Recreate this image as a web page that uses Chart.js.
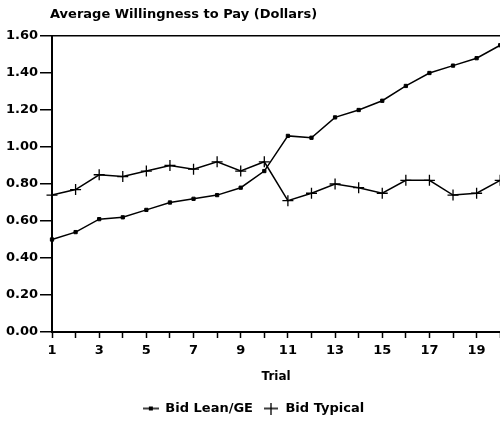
<!DOCTYPE html>
<html>
<head>
<meta charset="utf-8">
<script src="https://cdn.jsdelivr.net/npm/chart.js@4"></script>
<style>
  html, body { margin: 0; padding: 0; background: #fff; }
  /* canvas is a bit wider than the window: the line overflow padding lands outside */
  #wrap { width: 500px; height: 425px; position: relative; overflow: hidden; }
</style>
</head>
<body>
<div id="wrap"><canvas id="chart" width="507" height="425"></canvas></div>
<script>
// data
const trials = ['1','2','3','4','5','6','7','8','9','10','11','12','13','14','15','16','17','18','19','20'];
const bidLean = [0.50, 0.54, 0.61, 0.62, 0.66, 0.70, 0.72, 0.74, 0.78, 0.87, 1.06, 1.05, 1.16, 1.20, 1.25, 1.33, 1.40, 1.44, 1.48, 1.55];
const bidTypical = [0.74, 0.77, 0.85, 0.84, 0.87, 0.90, 0.88, 0.92, 0.87, 0.92, 0.71, 0.75, 0.80, 0.78, 0.75, 0.82, 0.82, 0.74, 0.75, 0.82];
const seriesNames = ['Bid Lean/GE', 'Bid Typical'];
const titleText = 'Average Willingness to Pay (Dollars)';

const FONT = '"DejaVu Sans", "Liberation Sans", Arial, sans-serif';

// little legend icons: line with dot, and a plus
function leanIcon(){
  const c = document.createElement('canvas'); c.width = 16; c.height = 8;
  const g = c.getContext('2d');
  g.strokeStyle = '#000'; g.lineWidth = 1.5;
  g.beginPath(); g.moveTo(0,4); g.lineTo(16,4); g.stroke();
  g.fillStyle = '#000'; g.fillRect(6,2,4,4);
  return c;
}
function plusIcon(){
  const c = document.createElement('canvas'); c.width = 16; c.height = 12;
  const g = c.getContext('2d');
  g.strokeStyle = '#000'; g.lineWidth = 1.3;
  g.beginPath(); g.moveTo(1,6); g.lineTo(15,6); g.moveTo(8,0); g.lineTo(8,12); g.stroke();
  return c;
}
const icons = [leanIcon(), plusIcon()];

// title drawn above the plot, lined up with the y axis
const titlePlugin = {
  id: 'topTitle',
  afterDraw(chart){
    const ctx = chart.ctx;
    ctx.save();
    ctx.font = 'bold 13px ' + FONT;
    ctx.fillStyle = '#000';
    ctx.textBaseline = 'middle';
    ctx.textAlign = 'left';
    ctx.fillText(titleText, chart.chartArea.left - 2, 15);
    ctx.restore();
  }
};

new Chart(document.getElementById('chart'), {
  type: 'line',
  data: {
    labels: trials,
    datasets: [
      { label: seriesNames[0], data: bidLean, borderColor: '#000', backgroundColor: '#000',
        borderWidth: 1.5, pointStyle: 'rect', pointRadius: 2.3, pointBorderWidth: 1, tension: 0 },
      { label: seriesNames[1], data: bidTypical, borderColor: '#000', backgroundColor: '#000',
        borderWidth: 1.5, pointStyle: 'cross', pointRadius: 5.5, pointBorderWidth: 1.3, tension: 0 }
    ]
  },
  options: {
    responsive: false,
    animation: false,
    devicePixelRatio: 1,
    layout: { padding: { top: 36, right: 0, bottom: 0, left: 0 } },
    plugins: {
      legend: {
        position: 'bottom',
        labels: {
          usePointStyle: true,
          pointStyleWidth: 16,
          padding: 10,
          color: '#000',
          font: { family: FONT, size: 13, weight: 'bold' },
          generateLabels(chart){
            const items = Chart.defaults.plugins.legend.labels.generateLabels(chart);
            items.forEach((it, i) => { it.pointStyle = icons[i]; });
            return items;
          }
        }
      },
      tooltip: { enabled: false }
    },
    scales: {
      x: {
        type: 'category',
        offset: false,
        border: { display: true, color: '#000', width: 2 },
        grid: { drawOnChartArea: false, drawTicks: true, tickLength: 6, tickColor: '#000', tickWidth: 1.5 },
        ticks: {
          autoSkip: false, maxRotation: 0, padding: 5, color: '#000',
          font: { family: FONT, size: 13, weight: 'bold' },
          callback: (v, i) => (i % 2 === 0 ? trials[i] : '')
        },
        title: { display: true, text: 'Trial', color: '#000', padding: { top: 6, bottom: 8 },
          font: { family: FONT, size: 12, weight: 'bold' } },
        afterFit: s => { s.height = 60; }
      },
      y: {
        min: 0, max: 1.6,
        border: { display: true, color: '#000', width: 2 },
        grid: {
          color: c => (c.tick && Math.abs(c.tick.value - 1.6) < 1e-6 ? '#000' : 'rgba(0,0,0,0)'),
          lineWidth: 1.5,
          tickColor: '#000', tickLength: 12, tickWidth: 1.5
        },
        ticks: {
          stepSize: 0.2, padding: 2, color: '#000',
          font: { family: FONT, size: 13, weight: 'bold' },
          callback: v => Number(v).toFixed(2)
        },
        afterFit: s => { s.width = 52; }
      }
    }
  },
  plugins: [titlePlugin]
});
</script>
</body>
</html>
